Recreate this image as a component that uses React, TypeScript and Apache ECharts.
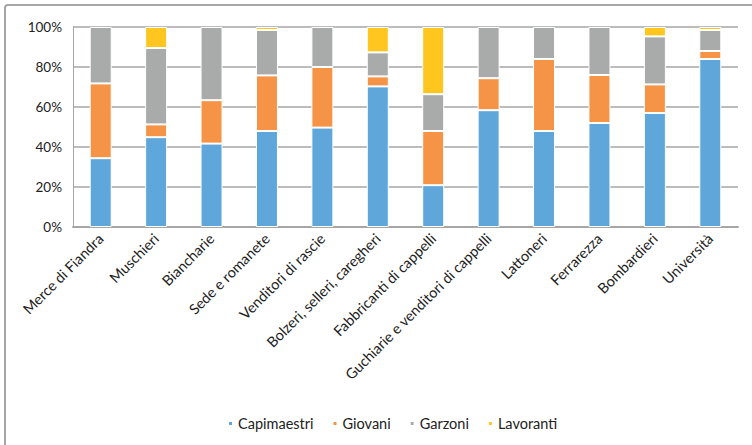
import React, { useEffect, useRef } from "react";
import * as echarts from "echarts";

const categories = [
  "Merce di Fiandra",
  "Muschieri",
  "Biancharie",
  "Sede e romanete",
  "Venditori di rascie",
  "Bolzeri, selleri, caregheri",
  "Fabbricanti di cappelli",
  "Guchiarie e venditori di cappelli",
  "Lattoneri",
  "Ferrarezza",
  "Bombardieri",
  "Università",
];

const capimaestri = [34.4, 44.9, 41.7, 48, 49.7, 70.3, 20.9, 58.4, 48, 52, 57, 84];
const giovani = [37.4, 6.4, 21.7, 27.8, 30.3, 5, 27.1, 16, 36, 24, 14.3, 4];
const garzoni = [28.2, 38.2, 36.6, 22.7, 20, 12, 18.4, 25.6, 16, 24, 24, 10.5];
const lavoranti = [0, 10.5, 0, 1.5, 0, 12.7, 33.6, 0, 0, 0, 4.7, 1.5];

const seriesNames = ["Capimaestri", "Giovani", "Garzoni", "Lavoranti"];
const seriesColors = ["#5fa7db", "#f59447", "#a9abaa", "#fec61f"];

export default function App() {
  const ref = useRef<HTMLDivElement>(null);

  useEffect(() => {
    if (!ref.current) return;
    const chart = echarts.init(ref.current, null, { renderer: "svg" });
    const font = "Lato, 'Open Sans', sans-serif";
    const allData = [capimaestri, giovani, garzoni, lavoranti];
    chart.setOption({
      animation: false,
      textStyle: { fontFamily: font },
      graphic: [
        {
          type: "rect",
          shape: { x: 5, y: 5, width: 800, height: 500, r: 3 },
          style: { fill: "none", stroke: "#a6a6a6", lineWidth: 2 },
          silent: true,
        },
      ],
      grid: { left: 73, right: 14, top: 27, bottom: 218, containLabel: false },
      legend: {
        left: 222,
        top: 411,
        icon: "rect",
        itemWidth: 5,
        itemHeight: 5,
        itemGap: 18,
        textStyle: { fontSize: 14.5, color: "#222", fontFamily: font },
        data: seriesNames,
      },
      xAxis: {
        type: "category",
        data: categories,
        axisLine: { show: true, lineStyle: { color: "#a6a6a6", width: 2 } },
        axisTick: { show: false },
        axisLabel: {
          interval: 0,
          rotate: 45,
          fontSize: 14.5,
          color: "#222",
          margin: 9,
          fontFamily: font,
        },
      },
      yAxis: {
        type: "value",
        min: 0,
        max: 100,
        interval: 20,
        axisLine: { show: true, lineStyle: { color: "#a6a6a6", width: 1 } },
        axisTick: { show: false },
        axisLabel: {
          formatter: "{value}%",
          fontSize: 13.5,
          color: "#222",
          margin: 11,
          fontFamily: font,
        },
        splitLine: { show: true, lineStyle: { color: "#a6a6a6", width: 1.5 } },
      },
      series: seriesNames.map((name, i) => ({
        name,
        type: "bar",
        stack: "total",
        barWidth: 22,
        data: allData[i].map((v) => (v === 0 ? "-" : v)),
        itemStyle: {
          color: seriesColors[i],
          borderColor: "#ffffff",
          borderWidth: 1,
        },
      })),
    });
    return () => chart.dispose();
  }, []);

  return (
    <div
      ref={ref}
      style={{ position: "fixed", left: 0, top: 0, width: 752, height: 445, background: "#fff" }}
    />
  );
}
